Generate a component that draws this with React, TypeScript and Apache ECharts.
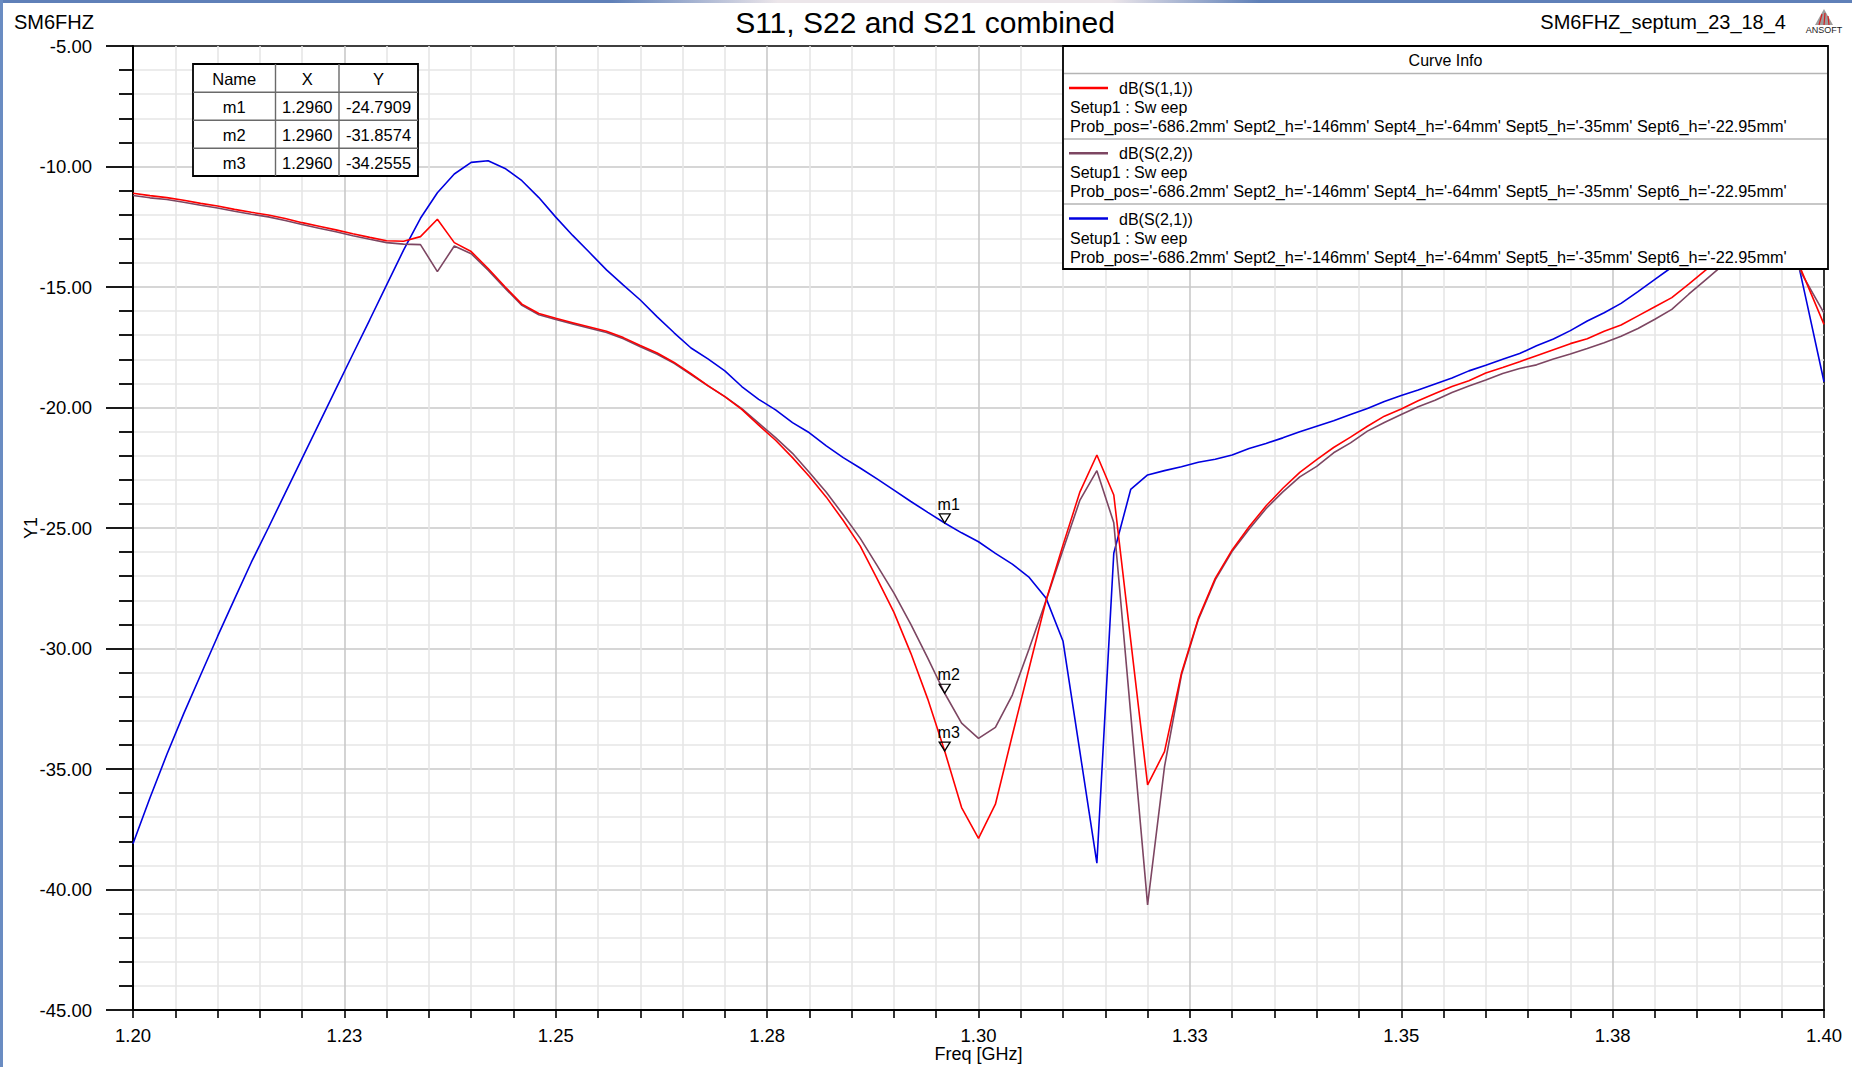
import React, { useEffect, useRef } from "react";
import * as echarts from "echarts";

// ---------- data ----------
const freqGHz = [
  1.2, 1.202, 1.204, 1.206, 1.208, 1.21, 1.212, 1.214, 1.216, 1.218,
  1.22, 1.222, 1.224, 1.226, 1.228, 1.23, 1.232, 1.234, 1.236, 1.238,
  1.24, 1.242, 1.244, 1.246, 1.248, 1.25, 1.252, 1.254, 1.256, 1.258,
  1.26, 1.262, 1.264, 1.266, 1.268, 1.27, 1.272, 1.274, 1.276, 1.278,
  1.28, 1.282, 1.284, 1.286, 1.288, 1.29, 1.292, 1.294, 1.296, 1.298,
  1.3, 1.302, 1.304, 1.306, 1.308, 1.31, 1.312, 1.314, 1.316, 1.318,
  1.32, 1.322, 1.324, 1.326, 1.328, 1.33, 1.332, 1.334, 1.336, 1.338,
  1.34, 1.342, 1.344, 1.346, 1.348, 1.35, 1.352, 1.354, 1.356, 1.358,
  1.36, 1.362, 1.364, 1.366, 1.368, 1.37, 1.372, 1.374, 1.376, 1.378,
  1.38, 1.382, 1.384, 1.386, 1.388, 1.39, 1.392, 1.394, 1.396, 1.398,
  1.4,
];

const s11dB = [
  -11.11, -11.21, -11.29, -11.4, -11.53, -11.64, -11.78, -11.9, -12.01, -12.16,
  -12.33, -12.48, -12.63, -12.79, -12.94, -13.08, -13.1, -12.91, -12.19, -13.16,
  -13.53, -14.23, -14.99, -15.71, -16.1, -16.3, -16.48, -16.66, -16.84, -17.1,
  -17.43, -17.74, -18.13, -18.6, -19.09, -19.55, -20.08, -20.73, -21.36, -22.08,
  -22.86, -23.72, -24.69, -25.74, -27.1, -28.5, -30.2, -32.1, -34.2555, -36.6,
  -37.88, -36.46, -33.6, -30.8, -28.0, -25.7, -23.5, -21.97, -23.63, -29.65,
  -35.66, -34.28, -31.03, -28.75, -27.09, -25.91, -24.95, -24.09, -23.35, -22.69,
  -22.16, -21.66, -21.23, -20.78, -20.36, -20.06, -19.72, -19.42, -19.13, -18.89,
  -18.57, -18.34, -18.1, -17.85, -17.6, -17.35, -17.15, -16.84, -16.58, -16.2,
  -15.82, -15.44, -14.88, -14.3, -13.8, -13.4, -13.1, -13.0, -13.2, -14.88,
  -16.55,
];

const s22dB = [
  -11.2, -11.3, -11.37, -11.48, -11.61, -11.72, -11.86, -11.98, -12.09, -12.24,
  -12.41, -12.56, -12.71, -12.87, -13.02, -13.16, -13.22, -13.24, -14.36, -13.3,
  -13.62, -14.3, -15.05, -15.76, -16.15, -16.35, -16.53, -16.71, -16.89, -17.15,
  -17.48, -17.79, -18.17, -18.63, -19.1, -19.55, -20.05, -20.65, -21.25, -21.9,
  -22.7, -23.52, -24.45, -25.42, -26.55, -27.7, -29.0, -30.4, -31.8574, -33.1,
  -33.73, -33.27, -31.93, -30.0, -28.0, -25.9, -23.84, -22.62, -24.78, -32.7,
  -40.64, -34.9, -31.1, -28.8, -27.15, -25.97, -25.05, -24.2, -23.5, -22.88,
  -22.44, -21.88, -21.47, -20.98, -20.62, -20.29, -19.97, -19.7, -19.38, -19.11,
  -18.86, -18.59, -18.38, -18.23, -17.99, -17.78, -17.55, -17.31, -17.04, -16.72,
  -16.34, -15.93, -15.3, -14.7, -14.1, -13.7, -13.4, -13.3, -13.6, -14.84,
  -16.08,
];

const s21dB = [
  -38.1, -36.2, -34.4, -32.7, -31.1, -29.5, -27.95, -26.42, -25.0, -23.55,
  -22.11, -20.67, -19.23, -17.79, -16.36, -14.91, -13.47, -12.15, -11.09, -10.31,
  -9.83, -9.76, -10.08, -10.59, -11.29, -12.1, -12.86, -13.57, -14.29, -14.92,
  -15.54, -16.24, -16.9, -17.53, -17.98, -18.48, -19.13, -19.66, -20.1, -20.63,
  -21.05, -21.59, -22.08, -22.51, -22.96, -23.43, -23.9, -24.35, -24.7909, -25.2,
  -25.57, -26.05, -26.5, -27.05, -27.92, -29.7, -34.3, -38.91, -26.05, -23.4,
  -22.8, -22.62, -22.46, -22.27, -22.15, -21.97, -21.7, -21.49, -21.26, -21.01,
  -20.78, -20.55, -20.29, -20.04, -19.75, -19.5, -19.27, -19.02, -18.78, -18.48,
  -18.25, -18.0, -17.76, -17.44, -17.16, -16.81, -16.41, -16.07, -15.68, -15.19,
  -14.68, -14.18, -13.65, -13.15, -12.75, -12.45, -12.25, -12.2, -12.5, -15.7,
  -18.93,
];

const xTickLabels = ["1.20", "1.23", "1.25", "1.28", "1.30", "1.33", "1.35", "1.38", "1.40"];
const yTickLabels = ["-45.00", "-40.00", "-35.00", "-30.00", "-25.00", "-20.00", "-15.00", "-10.00", "-5.00"];

const markerNames = ["m1", "m2", "m3"];
const markerFreq = [1.296, 1.296, 1.296];
const markerValues = [-24.7909, -31.8574, -34.2555];
const markerFreqText = ["1.2960", "1.2960", "1.2960"];
const markerValueText = ["-24.7909", "-31.8574", "-34.2555"];

const curveNames = ["dB(S(1,1))", "dB(S(2,2))", "dB(S(2,1))"];
const setupText = "Setup1 : Sw eep";
const paramText =
  "Prob_pos='-686.2mm' Sept2_h='-146mm' Sept4_h='-64mm' Sept5_h='-35mm' Sept6_h='-22.95mm'";

// ---------- styles ----------
const FONT = "'Liberation Sans', Arial, Helvetica, sans-serif";
const RED = "#ff0000";
const PURPLE = "#7d4662";
const BLUE = "#0000e0";
const curveColors = [RED, PURPLE, BLUE];

const W = 1852;
const H = 1067;

function pairs(vals: number[]) {
  return freqGHz.map((f, i) => [f, vals[i]]);
}

function markerPoint(idx: number) {
  return {
    symbol: "path://M0,0 L10,0 L5,9 Z",
    symbolSize: [11, 9],
    symbolOffset: [0, -4.5],
    itemStyle: { color: "rgba(255,255,255,0)", borderColor: "#000", borderWidth: 1.3 },
    label: {
      show: true,
      position: "top",
      distance: 1,
      offset: [4, 0],
      formatter: markerNames[idx],
      color: "#000",
      fontSize: 16,
      fontFamily: FONT,
    },
    data: [{ coord: [markerFreq[idx], markerValues[idx]] }],
    animation: false,
  };
}

function txt(text: string, x: number, y: number, size: number, align = "left", extra: any = {}) {
  return {
    type: "text",
    x,
    y,
    z: 100,
    style: {
      text,
      fill: "#000",
      fontSize: size,
      fontFamily: FONT,
      textAlign: align,
      textVerticalAlign: "middle",
      ...extra,
    },
  };
}

function ln(x1: number, y1: number, x2: number, y2: number, color: string, width: number) {
  return {
    type: "line",
    z: 100,
    shape: { x1, y1, x2, y2 },
    style: { stroke: color, lineWidth: width },
  };
}

function buildGraphics() {
  const g: any[] = [];
  // window frame remnants
  g.push({
    type: "rect",
    z: 100,
    shape: { x: 0, y: 0, width: W, height: 3 },
    style: {
      fill: new echarts.graphic.LinearGradient(0, 0, 1, 0, [
        { offset: 0, color: "#5f80b8" },
        { offset: 0.33, color: "#5f80b8" },
        { offset: 0.42, color: "#ece6ea" },
        { offset: 0.6, color: "#ece6ea" },
        { offset: 0.68, color: "#5f80b8" },
        { offset: 1, color: "#5f80b8" },
      ]),
    },
  });
  g.push({
    type: "rect",
    z: 100,
    shape: { x: 0, y: 0, width: 3, height: H },
    style: { fill: "#6a8cc2" },
  });

  // header texts
  g.push(txt("SM6FHZ", 14, 22, 20));
  g.push(txt("S11, S22 and S21 combined", 925, 22, 30, "center"));
  g.push(txt("SM6FHZ_septum_23_18_4", 1786, 22, 20, "right"));

  // ANSOFT logo
  g.push({
    type: "polygon",
    z: 100,
    shape: { points: [[1824, 9], [1815, 25], [1833, 25]] },
    style: { fill: "#9c9c9c" },
  });
  g.push(ln(1822, 14, 1819, 25, "#d42020", 1.2));
  g.push(ln(1825, 13, 1824, 25, "#d42020", 1.2));
  g.push(ln(1828, 16, 1829, 25, "#d42020", 1.2));
  g.push(txt("ANSOFT", 1824, 30, 9, "center", { fill: "#222" }));

  // marker table
  const tx0 = 193, tx1 = 418, ty0 = 64, ty1 = 176;
  const colX = [275.5, 339];
  const rowY = [92.3, 120.3, 148.3];
  g.push({
    type: "rect",
    z: 100,
    shape: { x: tx0, y: ty0, width: tx1 - tx0, height: ty1 - ty0 },
    style: { fill: "#fff", stroke: "#000", lineWidth: 1.8 },
  });
  colX.forEach((x) => g.push(ln(x, ty0, x, ty1, "#6a6a6a", 1.4)));
  rowY.forEach((y) => g.push(ln(tx0, y, tx1, y, "#6a6a6a", 1.4)));
  const cx = [(tx0 + colX[0]) / 2, (colX[0] + colX[1]) / 2, (colX[1] + tx1) / 2];
  const cy = [78.5, 106.5, 134.5, 162.5];
  g.push(txt("Name", cx[0], cy[0], 16.5, "center"));
  g.push(txt("X", cx[1], cy[0], 16.5, "center"));
  g.push(txt("Y", cx[2], cy[0], 16.5, "center"));
  for (let i = 0; i < 3; i++) {
    g.push(txt(markerNames[i], cx[0], cy[i + 1], 16.5, "center"));
    g.push(txt(markerFreqText[i], cx[1], cy[i + 1], 16.5, "center"));
    g.push(txt(markerValueText[i], cx[2], cy[i + 1], 16.5, "center"));
  }

  // curve info box
  const lx0 = 1063, lx1 = 1828, ly0 = 46, ly1 = 269;
  g.push({
    type: "rect",
    z: 100,
    shape: { x: lx0, y: ly0, width: lx1 - lx0, height: ly1 - ly0 },
    style: { fill: "#fff", stroke: "#000", lineWidth: 1.8 },
  });
  g.push(txt("Curve Info", (lx0 + lx1) / 2, 60.5, 16, "center"));
  [73.5, 139, 204].forEach((y) => g.push(ln(lx0 + 1, y, lx1 - 1, y, "#b4b4b4", 1.6)));
  const rowBase = [88, 153.3, 218.5];
  for (let i = 0; i < 3; i++) {
    const y = rowBase[i];
    g.push(ln(1069, y, 1108, y, curveColors[i], 2.6));
    g.push(txt(curveNames[i], 1119, y + 0.5, 16));
    g.push(txt(setupText, 1070, y + 19.5, 16));
    g.push(txt(paramText, 1070, y + 38, 16.3));
  }
  return g;
}

export default function App() {
  const ref = useRef<HTMLDivElement>(null);

  useEffect(() => {
    if (!ref.current) return;
    const chart = echarts.init(ref.current, undefined, { renderer: "svg" });

    const option: any = {
      animation: false,
      backgroundColor: "#ffffff",
      textStyle: { fontFamily: FONT },
      grid: {
        left: 133,
        right: 28,
        top: 46,
        bottom: 57,
        show: true,
        borderColor: "#000",
        borderWidth: 1.6,
        backgroundColor: "#fff",
        containLabel: false,
        outerBoundsMode: "none",
      },
      xAxis: {
        type: "value",
        min: 1.2,
        max: 1.4,
        interval: 0.025,
        axisLine: { show: true, onZero: false, lineStyle: { color: "#000", width: 2 } },
        axisTick: { show: true, length: 8, inside: false, lineStyle: { color: "#000", width: 1.6 } },
        minorTick: { show: true, splitNumber: 5, length: 8, lineStyle: { color: "#000", width: 1.6 } },
        splitLine: {
          show: true,
          showMinLine: false,
          showMaxLine: false,
          lineStyle: { color: "#c9c9c9", width: 1.6 },
        },
        minorSplitLine: { show: true, lineStyle: { color: "#e6e6e6", width: 1.6 } },
        axisLabel: {
          show: true,
          margin: 16,
          color: "#000",
          fontSize: 18.5,
          fontFamily: FONT,
          formatter: (v: number) => xTickLabels[Math.round((v - 1.2) / 0.025)] ?? "",
        },
        name: "Freq [GHz]",
        nameLocation: "middle",
        nameGap: 35,
        nameMoveOverlap: false,
        nameTextStyle: { color: "#000", fontSize: 18, fontFamily: FONT },
      },
      yAxis: {
        type: "value",
        min: -45,
        max: -5,
        interval: 5,
        axisLine: { show: true, onZero: false, lineStyle: { color: "#000", width: 2 } },
        axisTick: { show: true, length: 27, inside: false, lineStyle: { color: "#000", width: 1.8 } },
        minorTick: { show: true, splitNumber: 5, length: 14, lineStyle: { color: "#000", width: 1.8 } },
        splitLine: {
          show: true,
          showMinLine: false,
          showMaxLine: false,
          lineStyle: { color: "#c9c9c9", width: 1.6 },
        },
        minorSplitLine: { show: true, lineStyle: { color: "#e6e6e6", width: 1.6 } },
        axisLabel: {
          show: true,
          margin: 41,
          color: "#000",
          fontSize: 18.5,
          fontFamily: FONT,
          formatter: (v: number) => yTickLabels[Math.round((v + 45) / 5)] ?? "",
        },
        name: "Y1",
        nameLocation: "middle",
        nameGap: 93,
        nameMoveOverlap: false,
        nameTextStyle: { color: "#000", fontSize: 18, fontFamily: FONT },
      },
      series: [
        {
          type: "line",
          name: curveNames[2],
          data: pairs(s21dB),
          showSymbol: false,
          symbol: "none",
          lineStyle: { color: BLUE, width: 1.6 },
          itemStyle: { color: BLUE },
          z: 2,
          markPoint: markerPoint(0),
        },
        {
          type: "line",
          name: curveNames[1],
          data: pairs(s22dB),
          showSymbol: false,
          symbol: "none",
          lineStyle: { color: PURPLE, width: 1.6 },
          itemStyle: { color: PURPLE },
          z: 3,
          markPoint: markerPoint(1),
        },
        {
          type: "line",
          name: curveNames[0],
          data: pairs(s11dB),
          showSymbol: false,
          symbol: "none",
          lineStyle: { color: RED, width: 1.6 },
          itemStyle: { color: RED },
          z: 4,
          markPoint: markerPoint(2),
        },
      ],
      graphic: { elements: buildGraphics() },
    };

    chart.setOption(option);
    return () => {
      chart.dispose();
    };
  }, []);

  return (
    <div
      ref={ref}
      style={{ position: "fixed", left: 0, top: 0, width: W, height: H, background: "#fff" }}
    />
  );
}
